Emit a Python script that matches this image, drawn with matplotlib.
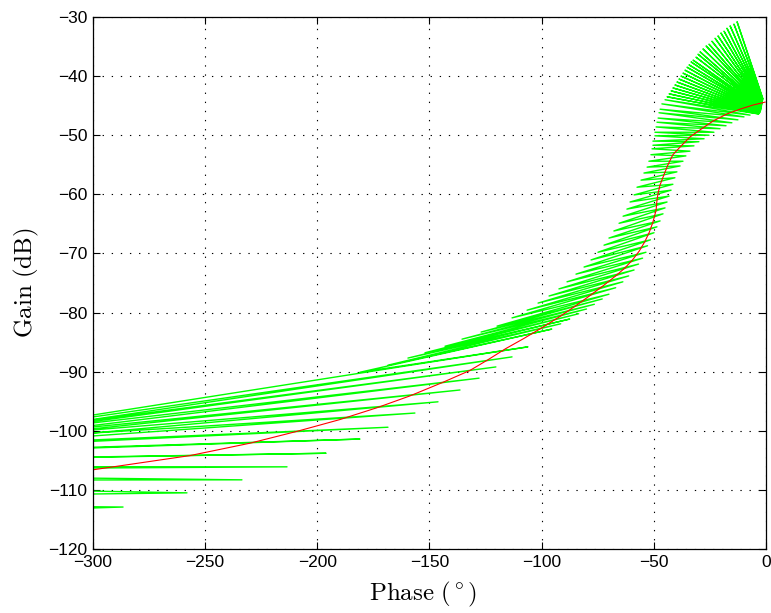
import numpy as np
import matplotlib
matplotlib.use('Agg')
import matplotlib.pyplot as plt

# nominal Nichols curve (red)
nominal_phase = [-0.4, -5.8, -11.6, -17.4, -23.6, -29.4, -33.9, -38.3, -41.5, -43.7, -45.5, -47.2,
                 -48.1, -48.6, -49.0, -50.4, -52.0, -54.0, -56.5, -59.5, -63.0, -67.0, -72.0,
                 -78.0, -85.0, -92.0, -100.0, -108.0, -116.0, -124.0, -132.0, -144.0, -158.7,
                 -173.4, -189.9, -209.1, -230.0, -256.8, -300.0]
nominal_gain = [-44.4, -44.9, -45.6, -46.4, -47.6, -49.1, -50.3, -52.0, -53.3, -55.0, -56.7, -58.4,
                -59.8, -61.0, -62.7, -64.7, -66.4, -68.0, -69.6, -71.1, -72.5, -73.8, -75.3,
                -77.0, -78.9, -80.7, -82.6, -84.4, -86.1, -88.0, -89.8, -91.8, -94.1,
                -96.1, -98.1, -100.1, -102.1, -104.2, -106.6]

# template end points, one pair per frequency (low -> high frequency)
# fan at low frequency
fan_right_phase = [-1.4, -1.4, -1.5, -1.5, -1.6, -1.6, -1.7, -1.7, -1.8, -1.8,
                   -1.9, -1.9, -2.0, -2.0, -2.1, -2.1, -2.2, -2.2, -2.3, -2.3,
                   -2.4, -2.5, -2.6, -2.7, -2.8, -2.9, -3.0, -3.1, -3.2, -3.4]
fan_right_gain = [-43.8, -43.9, -44.0, -44.1, -44.2, -44.3, -44.4, -44.5, -44.6, -44.7,
                  -44.8, -44.9, -45.0, -45.1, -45.2, -45.3, -45.4, -45.5, -45.6, -45.7,
                  -45.8, -45.9, -46.0, -46.1, -46.2, -46.2, -46.3, -46.3, -46.4, -46.4]
fan_left_phase = [-12.9, -14.3, -16.0, -17.4, -18.7, -20.1, -21.4, -22.7, -24.1, -25.4,
                  -26.7, -28.1, -29.4, -30.3, -31.2, -32.5, -33.4, -34.3, -35.2, -36.1,
                  -37.0, -37.9, -38.8, -39.7, -40.6, -41.5, -42.3, -43.2, -44.1, -45.0]
fan_left_gain = [-30.8, -31.2, -31.5, -31.9, -32.4, -32.7, -33.2, -33.6, -34.1, -34.6,
                 -34.9, -35.4, -35.9, -36.3, -36.8, -37.3, -37.6, -38.1, -38.5, -39.0,
                 -39.5, -40.0, -40.5, -41.0, -41.5, -42.0, -42.5, -43.0, -43.5, -44.0]

# mid frequencies
mid_right_phase = [-7.1, -9.8, -12.5, -15.2, -17.8, -20.5, -23.2, -25.4, -27.6, -29.9,
                   -32.1, -33.9, -35.7, -37.0, -38.3, -39.7, -40.6, -41.5, -42.3, -43.2,
                   -44.1, -45.0, -45.9, -47.2, -48.6, -49.9, -51.5, -52.8, -53.5, -55.0,
                   -56.8, -58.8, -61.2, -63.8, -67.0, -70.0, -73.0, -76.5, -80.0, -83.5,
                   -87.5, -91.5, -95.5]
mid_right_gain = [-46.6, -46.9, -47.4, -47.9, -48.4, -48.9, -49.5, -50.0, -50.6, -51.1,
                  -51.8, -52.7, -53.5, -54.4, -55.2, -56.2, -57.2, -58.3, -59.3, -60.3,
                  -61.3, -62.3, -63.3, -64.5, -65.5, -66.5, -67.7, -68.7, -69.8, -70.8,
                  -71.8, -72.8, -73.8, -74.8, -75.8, -76.9, -77.7, -78.6, -79.4, -80.2,
                  -81.1, -81.9, -82.8]
mid_left_phase = [-46.4, -47.2, -47.7, -48.1, -48.6, -49.0, -49.5, -49.5, -50.4, -50.4,
                  -50.8, -51.3, -52.2, -53.0, -54.4, -55.7, -57.5, -58.8, -60.6, -62.0,
                  -63.7, -65.5, -67.8, -70.0, -72.2, -74.9, -78.0, -81.1, -84.7, -88.7,
                  -92.3, -96.7, -101.6, -106.5, -113.2, -119.9, -127.0, -135.5, -143.1, -152.0,
                  -159.6, -168.5, -181.0]
mid_left_gain = [-44.7, -45.6, -46.2, -47.1, -47.8, -48.6, -49.5, -50.1, -51.0, -51.7,
                 -52.3, -53.3, -54.4, -55.4, -56.4, -57.6, -58.8, -60.1, -61.3, -62.5,
                 -63.7, -64.9, -66.2, -67.4, -68.6, -69.8, -71.1, -72.3, -73.5, -74.8,
                 -76.0, -77.2, -78.4, -79.6, -80.9, -82.3, -83.3, -84.5, -85.7, -86.8,
                 -87.7, -88.9, -90.1]

# high frequencies, left ends lie beyond -300 deg
high_right_phase = [-106.1, -113.2, -120.4, -127.9, -136.4, -146.2, -156.5, -168.5, -181.0,
                    -196.1, -213.5, -233.6, -258.1, -286.6]
high_right_gain = [-85.8, -87.5, -89.2, -91.1, -93.1, -95.1, -97.0, -99.4, -101.4,
                   -103.8, -106.1, -108.3, -110.5, -112.9]
high_left_phase = [-560, -560, -560, -560, -560, -560, -560, -560, -560,
                   -560, -560, -560, -560, -560]
high_left_gain = [-112.8, -111.8, -111.2, -110.1, -109.3, -107.9, -106.5, -105.8, -106.2,
                  -106.0, -106.9, -108.4, -111.9, -116.2]

x_ticks = [-300, -250, -200, -150, -100, -50, 0]
y_ticks = [-120, -110, -100, -90, -80, -70, -60, -50, -40, -30]

right_phase = fan_right_phase + mid_right_phase + high_right_phase
right_gain = fan_right_gain + mid_right_gain + high_right_gain
left_phase = fan_left_phase + mid_left_phase + high_left_phase
left_gain = fan_left_gain + mid_left_gain + high_left_gain

plt.rcParams['mathtext.fontset'] = 'cm'

fig = plt.figure(figsize=(7.71, 6.13), dpi=100)
ax = fig.add_axes([0.1206, 0.1044, 0.8729, 0.8679])

# all templates drawn as one zig-zag line
path_phase = np.column_stack([right_phase, left_phase]).ravel()
path_gain = np.column_stack([right_gain, left_gain]).ravel()
ax.plot(path_phase, path_gain, color='#00ff00', linewidth=1.0)
ax.plot(nominal_phase, nominal_gain, color='#ff0000', linewidth=0.8)

ax.set_xlim(-300, 0)
ax.set_ylim(-120, -30)
ax.set_xticks(x_ticks)
ax.set_yticks(y_ticks)
ax.grid(True, color='black', linestyle=(0, (1.2, 7)), linewidth=0.8)
ax.tick_params(direction='in', top=True, right=True, length=5, width=0.8,
               labelsize=12.5, pad=4)
for lab in ax.get_xticklabels() + ax.get_yticklabels():
    lab.set_family('Liberation Sans')
for s in ax.spines.values():
    s.set_linewidth(0.9)

ax.set_xlabel(r'$\mathrm{Phase}\ (^\circ)$', fontsize=18)
ax.set_ylabel(r'$\mathrm{Gain\ (dB)}$', fontsize=18, labelpad=5)
ax.xaxis.set_label_coords(0.491, -0.058)

fig.savefig('out.png', dpi=100)
